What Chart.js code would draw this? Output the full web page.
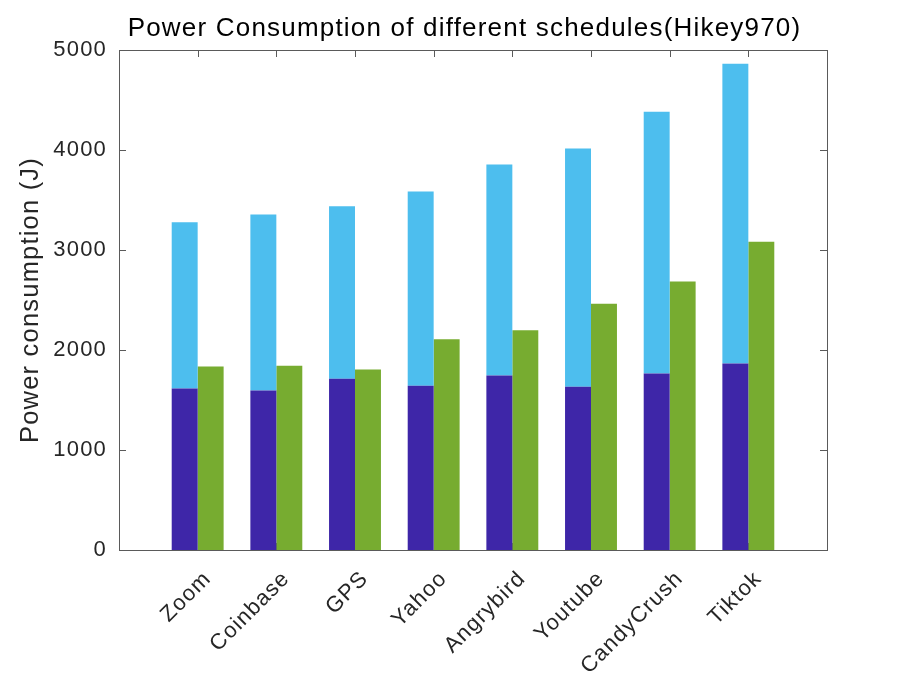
<!DOCTYPE html>
<html>
<head>
<meta charset="utf-8">
<script src="https://cdn.jsdelivr.net/npm/chart.js@4"></script>
<style>
  html, body { margin: 0; padding: 0; background: #fff; }
  #wrap { width: 913px; height: 685px; }
</style>
</head>
<body>
<div id="wrap"><canvas id="powerChart"></canvas></div>
<script>
const categories = ["Zoom", "Coinbase", "GPS", "Yahoo", "Angrybird", "Youtube", "CandyCrush", "Tiktok"];
// stacked bar: lower (dark) and upper (light) segments
const baseSegment = [1615, 1595, 1712, 1642, 1745, 1632, 1765, 1865];
const upperSegment = [1663, 1760, 1726, 1943, 2110, 2383, 2617, 2997];
// second bar of each group
const otherSchedule = [1835, 1842, 1805, 2108, 2198, 2462, 2685, 3082];
const yTicks = [0, 1000, 2000, 3000, 4000, 5000];

const axisColor = "#5a5a5a";
const textColor = "#262626";
const fontFamily = "'Liberation Sans', Arial, sans-serif";

function toPoints(values) {
  return values.map((v, i) => ({ x: i + 1, y: v }));
}

// the matlab text is a little wider than Liberation Sans
const spacingPlugin = {
  id: "letterSpacing",
  beforeUpdate(chart) { chart.ctx.letterSpacing = "1.2px"; },
  beforeDraw(chart) { chart.ctx.letterSpacing = "1.2px"; },
};

// MATLAB style box with inward ticks
const boxPlugin = {
  id: "matlabBox",
  beforeDatasetsDraw(chart) {
    const { ctx, chartArea: a, scales } = chart;
    ctx.save();
    ctx.strokeStyle = axisColor;
    ctx.lineWidth = 1;
    ctx.beginPath();
    yTicks.forEach((t) => {
      const y = Math.round(scales.y.getPixelForValue(t)) + 0.5;
      ctx.moveTo(a.left, y);
      ctx.lineTo(a.left + 7, y);
      ctx.moveTo(a.right, y);
      ctx.lineTo(a.right - 7, y);
    });
    categories.forEach((c, i) => {
      const x = Math.round(scales.x.getPixelForValue(i + 1)) + 0.5;
      ctx.moveTo(x, a.top);
      ctx.lineTo(x, a.top + 7);
      ctx.moveTo(x, a.bottom);
      ctx.lineTo(x, a.bottom - 7);
    });
    ctx.stroke();
    ctx.restore();
  },
  afterDatasetsDraw(chart) {
    const { ctx, chartArea: a } = chart;
    ctx.save();
    ctx.strokeStyle = axisColor;
    ctx.lineWidth = 1;
    ctx.strokeRect(Math.round(a.left) + 0.5, Math.round(a.top) + 0.5,
      Math.round(a.right - a.left), Math.round(a.bottom - a.top));
    ctx.restore();
  },
};

document.addEventListener("DOMContentLoaded", () => {
  const ctx = document.getElementById("powerChart").getContext("2d");
  new Chart(ctx, {
    type: "bar",
    data: {
      datasets: [
        {
          label: "base",
          data: toPoints(baseSegment),
          backgroundColor: "rgb(62, 38, 168)",
          stack: "s1",
        },
        {
          label: "upper",
          data: toPoints(upperSegment),
          backgroundColor: "rgb(77, 190, 238)",
          stack: "s1",
        },
        {
          label: "other",
          data: toPoints(otherSchedule),
          backgroundColor: "rgb(119, 172, 48)",
          stack: "s2",
        },
      ],
    },
    options: {
      responsive: true,
      maintainAspectRatio: false,
      animation: false,
      devicePixelRatio: 1,
      categoryPercentage: 0.66,
      barPercentage: 1,
      layout: { padding: { left: 16, right: 0, top: 0, bottom: 0 } },
      plugins: {
        legend: { display: false },
        tooltip: { enabled: false },
        title: {
          display: true,
          text: "Power Consumption of different schedules(Hikey970)",
          color: "#000",
          font: { family: fontFamily, size: 26, weight: "normal" },
          padding: { top: 13.5, bottom: 5.3 },
        },
      },
      scales: {
        x: {
          type: "linear",
          min: 0,
          max: 9,
          offset: false,
          grid: { display: false, drawTicks: false },
          border: { display: true, color: axisColor },
          ticks: {
            stepSize: 1,
            autoSkip: false,
            maxRotation: 45,
            minRotation: 45,
            padding: 16,
            labelOffset: 10,
            color: textColor,
            font: { family: fontFamily, size: 22 },
            callback: (v) => categories[v - 1] || "",
          },
          afterFit: (scale) => { scale.height = 135; },
        },
        y: {
          stacked: true,
          min: 0,
          max: 5000,
          grid: { display: false, drawTicks: false },
          border: { display: true, color: axisColor },
          ticks: {
            stepSize: 1000,
            padding: 12,
            color: textColor,
            font: { family: fontFamily, size: 22 },
            callback: (v) => String(v),
          },
          title: {
            display: true,
            text: "Power consumption (J)",
            color: textColor,
            font: { family: fontFamily, size: 25.5 },
            padding: { top: 0, bottom: 0 },
          },
          afterFit: (scale) => { scale.width = 103; },
        },
        // empty axis that only reserves the right margin
        yRight: {
          position: "right",
          display: true,
          grid: { display: false, drawTicks: false },
          border: { display: false },
          ticks: { display: false },
          afterFit: (scale) => { scale.width = 86; },
        },
      },
    },
    plugins: [spacingPlugin, boxPlugin],
  });
});
</script>
</body>
</html>
